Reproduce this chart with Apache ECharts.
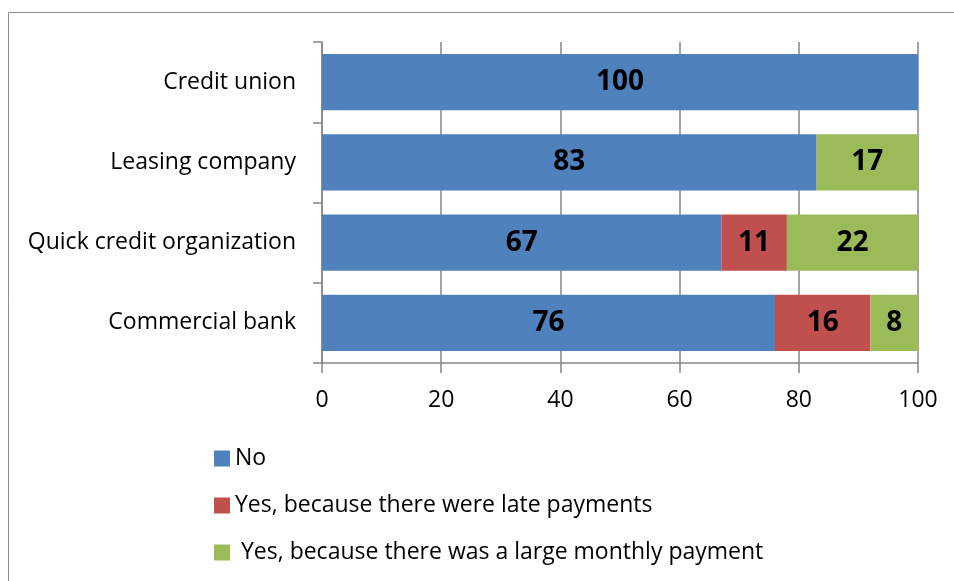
<!DOCTYPE html>
<html>
<head>
<meta charset="utf-8">
<script src="https://cdn.jsdelivr.net/npm/echarts@6/dist/echarts.min.js"></script>
<style>
  html, body { margin: 0; padding: 0; background: #fff; }
  #chart { width: 954px; height: 581px; }
</style>
</head>
<body>
<div id="chart"></div>
<script>
const categories = ['Commercial bank', 'Quick credit organization', 'Leasing company', 'Credit union']
const seriesNames = ['No', 'Yes, because there were late payments', ' Yes, because there was a large monthly payment']
const noValues = [76, 67, 83, 100]
const lateValues = [16, 11, 0, 0]
const largeValues = [8, 22, 17, 0]
const colors = ['#4F81BD', '#C0504D', '#9BBB59']

const font = '"Open Sans", sans-serif'
const chart = echarts.init(document.getElementById('chart'), null, { renderer: 'canvas' })

const barLabel = {
  show: true,
  position: 'inside',
  color: '#000',
  fontFamily: font,
  fontSize: 28,
  fontWeight: 'bold',
  formatter: (p) => (p.value > 0 ? String(p.value) : ''),
}

const mkSeries = (name, data, i) => ({
  name,
  type: 'bar',
  stack: 'total',
  data,
  barCategoryGap: '30%',
  itemStyle: { color: colors[i] },
  label: barLabel,
})

chart.setOption({
  animation: false,
  textStyle: { fontFamily: font },
  graphic: [
    {
      type: 'rect',
      shape: { x: 8.5, y: 12.5, width: 1000, height: 600 },
      style: { fill: 'none', stroke: '#8c8c8c', lineWidth: 1 },
      silent: true,
    },
  ],
  grid: { left: 322, right: 36, top: 42, bottom: 218 },
  legend: {
    orient: 'vertical',
    left: 209,
    top: 442,
    itemWidth: 16,
    itemHeight: 16,
    itemGap: 24,
    icon: 'rect',
    textStyle: { fontSize: 23, color: '#000', fontFamily: font },
    data: seriesNames,
  },
  xAxis: {
    type: 'value',
    min: 0,
    max: 100,
    interval: 20,
    axisLine: { show: true, lineStyle: { color: '#868686', width: 1.5 } },
    axisTick: { show: true, length: 10, lineStyle: { color: '#868686', width: 1.5 } },
    axisLabel: { fontSize: 23, color: '#000', margin: 26, fontFamily: font },
    splitLine: { show: true, lineStyle: { color: '#868686', width: 1.5 } },
  },
  yAxis: {
    type: 'category',
    data: categories,
    axisLine: { show: true, lineStyle: { color: '#868686', width: 1.5 } },
    axisTick: { show: true, length: 9, lineStyle: { color: '#868686', width: 1.5 } },
    axisLabel: { fontSize: 23, color: '#000', margin: 26, fontFamily: font },
  },
  series: [
    mkSeries(seriesNames[0], noValues, 0),
    mkSeries(seriesNames[1], lateValues, 1),
    mkSeries(seriesNames[2], largeValues, 2),
  ],
})
</script>
</body>
</html>
